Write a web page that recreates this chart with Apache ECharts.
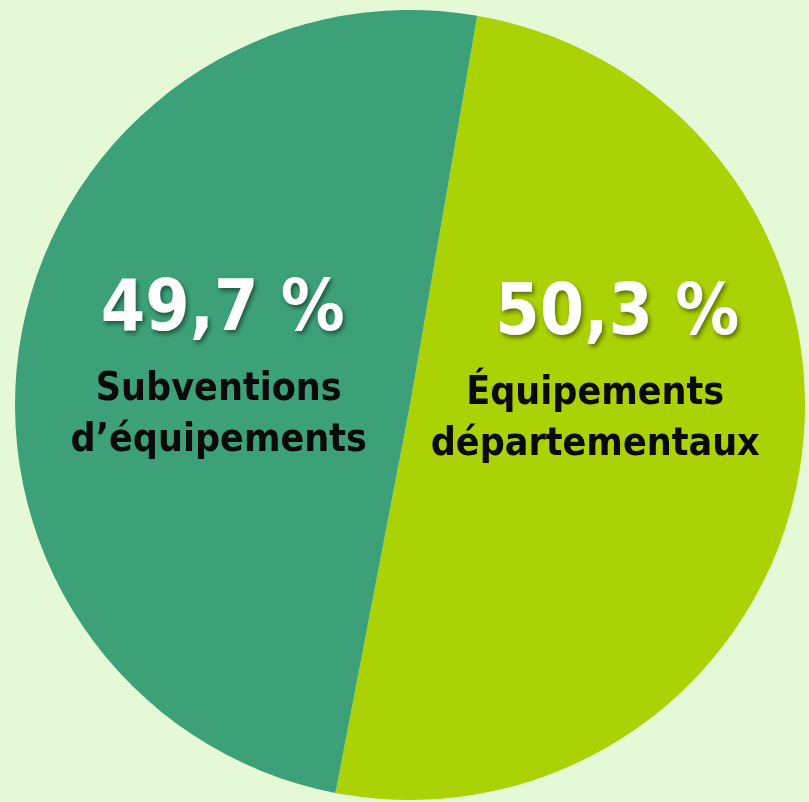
<!DOCTYPE html>
<html>
<head>
<meta charset="utf-8">
<script src="https://cdn.jsdelivr.net/npm/echarts@6/dist/echarts.min.js"></script>
<style>
html,body{margin:0;padding:0;background:#e6f9d6;}
#c{width:809px;height:802px;}
</style>
</head>
<body>
<div id="c"></div>
<script>
const categories = ["Équipements\ndépartementaux", "Subventions\nd’équipements"];
const values = [50.3, 49.7];
const pctLabels = ["50,3 %", "49,7 %"];

const colors = ["#aad205", "#3ca078"];
const offsets = [[-12, -74], [6, -6]];

const chart = echarts.init(document.getElementById('c'), null, {renderer: 'canvas'});
const FONT = '"DejaVu Sans Condensed", "Open Sans", sans-serif';
const pctStyle = {
  fontFamily: FONT, fontWeight: 'bold', fontSize: 71, color: '#ffffff',
  lineHeight: 104,
  textShadowColor: 'rgba(0,0,0,0.45)', textShadowBlur: 4,
  textShadowOffsetX: 2, textShadowOffsetY: 3
};
chart.setOption({
  backgroundColor: '#e6f9d6',
  animation: false,
  series: [{
    type: 'pie',
    center: [410, 405],
    radius: 395,
    startAngle: 80.2,
    clockwise: true,
    silent: true,
    labelLine: {show: false},
    data: categories.map((c, i) => ({
      name: c,
      value: values[i],
      itemStyle: {color: colors[i]},
      label: {offset: offsets[i]}
    })),
    label: {
      show: true,
      position: 'inside',
      formatter: (p) => '{' + (p.dataIndex === 0 ? 'pctR' : 'pctL') + '|' + pctLabels[p.dataIndex] + '}\n' +
        p.name.split('\n').map(s => '{nm|' + s + '}').join('\n'),
      rich: {
        pctL: Object.assign({}, pctStyle, {padding: [0, 0, 0, 8]}),
        pctR: Object.assign({}, pctStyle, {padding: [0, 0, 0, 44]}),
        nm: {
          fontFamily: FONT, fontWeight: 'bold', fontSize: 39, color: '#0a0a0a',
          lineHeight: 51
        }
      }
    }
  }]
});
</script>
</body>
</html>
